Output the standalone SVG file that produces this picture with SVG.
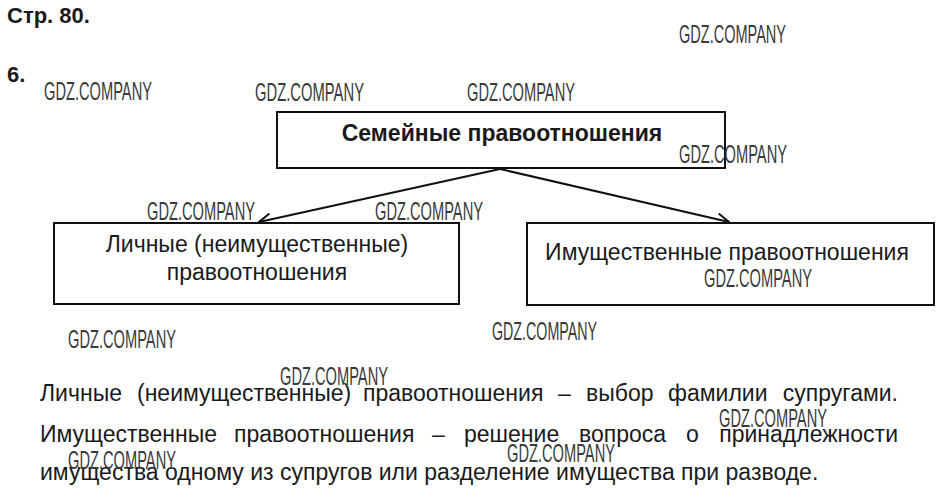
<svg xmlns="http://www.w3.org/2000/svg" width="943" height="500" viewBox="0 0 943 500">
<defs>
<style>
.box{fill:#fff;stroke:#111;stroke-width:2}
.t{font-family:"Liberation Sans",Arial,sans-serif;fill:#1a1a1a}
.wm{font-family:"Liberation Sans",Arial,sans-serif;font-size:26px;fill:#3a3a3a}
.conn{stroke:#111;stroke-width:2;fill:none}
</style>
<marker id="arr" viewBox="0 0 14 14" refX="13" refY="7" markerWidth="14" markerHeight="14" markerUnits="userSpaceOnUse" orient="auto">
<path d="M1,1 L13,7 L1,13" fill="none" stroke="#111" stroke-width="2"/>
</marker>
</defs>
<rect width="943" height="500" fill="#fff"/>
<text class="t" x="7" y="23" font-size="22" font-weight="bold">Стр. 80.</text>
<text class="t" x="7" y="82" font-size="22" font-weight="bold">6.</text>

<g id="connectors">
<line class="conn" x1="500" y1="169" x2="259" y2="222" marker-end="url(#arr)"/>
<line class="conn" x1="500" y1="169" x2="729" y2="222" marker-end="url(#arr)"/>
</g>

<g id="node-root">
<rect class="box" x="277" y="112" width="448" height="56"/>
<text class="t" x="502" y="141" font-size="23" font-weight="bold" text-anchor="middle">Семейные правоотношения</text>
</g>
<g id="node-personal">
<rect class="box" x="54" y="223" width="405" height="81"/>
<text class="t" x="257" y="252" font-size="23" text-anchor="middle">Личные (неимущественные)</text>
<text class="t" x="257" y="280" font-size="23" text-anchor="middle">правоотношения</text>
</g>
<g id="node-property">
<rect class="box" x="527" y="223" width="407" height="82"/>
<text class="t" x="727" y="260" font-size="23" text-anchor="middle">Имущественные правоотношения</text>
</g>

<g id="body-text" class="t" font-size="23">
<text y="401"><tspan x="40">Личные</tspan><tspan x="137">(неимущественные)</tspan><tspan x="363">правоотношения</tspan><tspan x="558">–</tspan><tspan x="586">выбор</tspan><tspan x="668">фамилии</tspan></text>
<text y="401" x="898" text-anchor="end">супругами.</text>
<text y="442"><tspan x="40">Имущественные</tspan><tspan x="234">правоотношения</tspan><tspan x="432">–</tspan><tspan x="464">решение</tspan><tspan x="579">вопроса</tspan><tspan x="686">о</tspan></text>
<text y="442" x="898" text-anchor="end">принадлежности</text>
<text x="40" y="480">имущества одному из супругов или разделение имущества при разводе.</text>
</g>

<g id="watermarks">
<text class="wm" x="679" y="43" textLength="107" lengthAdjust="spacingAndGlyphs">GDZ.COMPANY</text>
<text class="wm" x="44" y="100" textLength="108" lengthAdjust="spacingAndGlyphs">GDZ.COMPANY</text>
<text class="wm" x="255" y="101" textLength="109" lengthAdjust="spacingAndGlyphs">GDZ.COMPANY</text>
<text class="wm" x="467" y="101" textLength="108" lengthAdjust="spacingAndGlyphs">GDZ.COMPANY</text>
<text class="wm" x="679" y="163" textLength="108" lengthAdjust="spacingAndGlyphs">GDZ.COMPANY</text>
<text class="wm" x="147" y="220" textLength="108" lengthAdjust="spacingAndGlyphs">GDZ.COMPANY</text>
<text class="wm" x="375" y="220" textLength="108" lengthAdjust="spacingAndGlyphs">GDZ.COMPANY</text>
<text class="wm" x="704" y="287" textLength="108" lengthAdjust="spacingAndGlyphs">GDZ.COMPANY</text>
<text class="wm" x="68" y="348" textLength="108" lengthAdjust="spacingAndGlyphs">GDZ.COMPANY</text>
<text class="wm" x="492" y="340" textLength="105" lengthAdjust="spacingAndGlyphs">GDZ.COMPANY</text>
<text class="wm" x="280" y="385" textLength="108" lengthAdjust="spacingAndGlyphs">GDZ.COMPANY</text>
<text class="wm" x="719" y="427" textLength="108" lengthAdjust="spacingAndGlyphs">GDZ.COMPANY</text>
<text class="wm" x="68" y="469" textLength="108" lengthAdjust="spacingAndGlyphs">GDZ.COMPANY</text>
<text class="wm" x="507" y="462" textLength="108" lengthAdjust="spacingAndGlyphs">GDZ.COMPANY</text>
</g>
</svg>
